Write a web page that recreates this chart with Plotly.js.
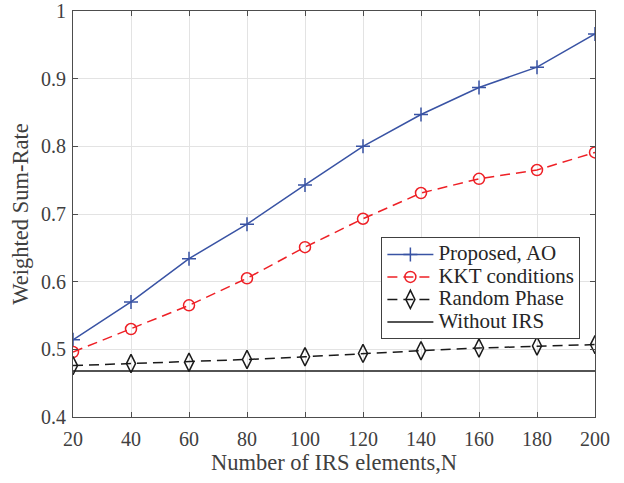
<!DOCTYPE html>
<html>
<head>
<meta charset="utf-8">
<script src="https://cdn.plot.ly/plotly-3.0.1.min.js"></script>
<style>html,body{margin:0;padding:0;background:#fff;}#chart{width:624px;height:483px;}</style>
</head>
<body>
<div id="chart"></div>
<script>
const N = [20, 40, 60, 80, 100, 120, 140, 160, 180, 200];
const proposedAO = [0.514, 0.570, 0.634, 0.685, 0.743, 0.800, 0.847, 0.887, 0.917, 0.966];
const kktConditions = [0.496, 0.530, 0.565, 0.605, 0.651, 0.693, 0.731, 0.752, 0.765, 0.791];
const randomPhase = [0.476, 0.479, 0.481, 0.485, 0.489, 0.494, 0.498, 0.502, 0.505, 0.507];
const withoutIRS = [0.468, 0.468, 0.468, 0.468, 0.468, 0.468, 0.468, 0.468, 0.468, 0.468];
const seriesNames = ['Proposed, AO', 'KKT conditions', 'Random Phase', 'Without IRS'];
const yTicks = [0.4, 0.5, 0.6, 0.7, 0.8, 0.9, 1];
const yTickLabels = ['0.4', '0.5', '0.6', '0.7', '0.8', '0.9', '1'];

const font = 'Liberation Serif, Times New Roman, serif';
const txt = '#404040';
const lg = s => '<span style="font-size:21px">' + s + '</span>';
const traces = [
  {x: N, y: proposedAO, name: lg(seriesNames[0]), mode: 'lines+markers',
   line: {color: '#3953a4', width: 1.5},
   marker: {symbol: 'cross-thin', size: 10, line: {color: '#3953a4', width: 1.5}}},
  {x: N, y: kktConditions, name: lg(seriesNames[1]), mode: 'lines+markers',
   line: {color: '#ee2026', width: 1.5, dash: '10px,6px'},
   marker: {symbol: 'circle-open', size: 11, color: '#ee2026', line: {width: 1.5}}},
  {x: N, y: randomPhase, name: lg(seriesNames[2]), mode: 'lines+markers',
   line: {color: '#1a1a1a', width: 1.5, dash: '10px,6px'},
   marker: {symbol: 'diamond-tall-open', size: 13, color: '#1a1a1a', line: {width: 1.5}}},
  {x: N, y: withoutIRS, name: lg(seriesNames[3]), mode: 'lines',
   line: {color: '#1a1a1a', width: 1.5}}
];
const layout = {
  width: 624, height: 483,
  margin: {l: 73, r: 29, t: 11, b: 66},
  paper_bgcolor: '#fff', plot_bgcolor: '#fff',
  font: {family: font, size: 20, color: txt},
  xaxis: {range: [20, 200], dtick: 20, tick0: 20, showgrid: true, gridcolor: '#e3e3e3',
    zeroline: false, showline: true, linecolor: '#4d4d4d', linewidth: 1, mirror: 'ticks',
    ticks: 'inside', ticklen: 5, tickcolor: '#4d4d4d', ticklabelstandoff: 4,
    tickfont: {family: font, size: 20, color: txt},
    title: {text: 'Number of IRS elements,N', font: {family: font, size: 22.5, color: txt}, standoff: 4}},
  yaxis: {range: [0.4, 1], tickvals: yTicks, ticktext: yTickLabels, showgrid: true, gridcolor: '#e3e3e3',
    zeroline: false, showline: true, linecolor: '#4d4d4d', linewidth: 1, mirror: 'ticks',
    ticks: 'inside', ticklen: 5, tickcolor: '#4d4d4d', ticklabelstandoff: 2,
    tickfont: {family: font, size: 20, color: txt},
    title: {text: 'Weighted Sum-Rate', font: {family: font, size: 22.5, color: txt}, standoff: 6}},
  legend: {x: 0.972, xanchor: 'right', y: 0.443, yanchor: 'top', bgcolor: '#fff',
    bordercolor: '#404040', borderwidth: 1, font: {family: font, size: 15, color: '#262626'},
    tracegroupgap: 0, itemwidth: 46},
  showlegend: true
};
Plotly.newPlot('chart', traces, layout, {displayModeBar: false, staticPlot: true});
</script>
</body>
</html>
